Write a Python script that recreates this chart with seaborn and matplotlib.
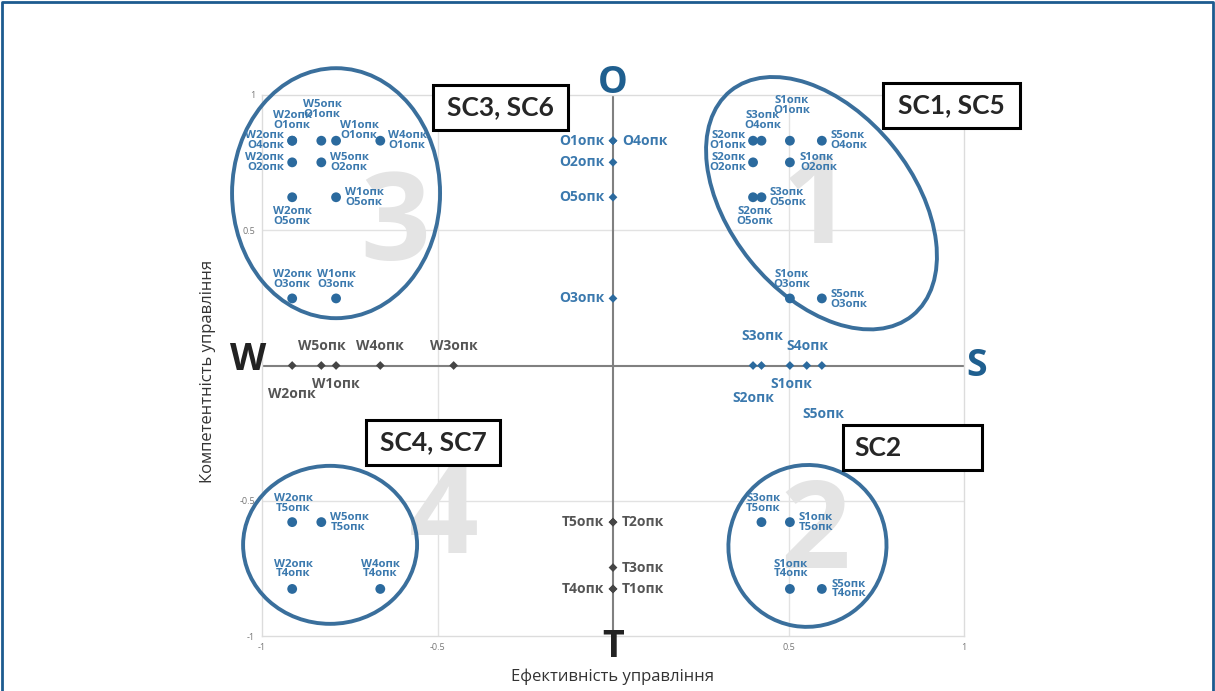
import numpy as np
import pandas as pd
import matplotlib
matplotlib.use("Agg")
import matplotlib.pyplot as plt
import seaborn as sns
from matplotlib.patches import Ellipse, Rectangle
from matplotlib.transforms import ScaledTranslation
from matplotlib.lines import Line2D

# factor scores on the axes
w_names = ["W1", "W2", "W3", "W4", "W5"]
w_vals = [-0.789, -0.914, -0.454, -0.663, -0.831]
s_names = ["S1", "S2", "S3", "S4", "S5"]
s_vals = [0.504, 0.399, 0.423, 0.552, 0.595]
o_names = ["O1", "O2", "O3", "O4", "O5"]
o_vals = [0.831, 0.751, 0.248, 0.831, 0.622]
t_names = ["T1", "T2", "T3", "T4", "T5"]
t_vals = [-0.826, -0.579, -0.747, -0.826, -0.579]

# combinations plotted in the quadrants
sc36_pairs = [("W2", "O1"), ("W2", "O4"), ("W5", "O1"), ("W1", "O1"), ("W4", "O1"),
              ("W2", "O2"), ("W5", "O2"), ("W2", "O5"), ("W1", "O5"), ("W2", "O3"), ("W1", "O3")]
sc15_pairs = [("S1", "O1"), ("S3", "O4"), ("S2", "O1"), ("S5", "O4"), ("S2", "O2"),
              ("S1", "O2"), ("S3", "O5"), ("S2", "O5"), ("S1", "O3"), ("S5", "O3")]
sc2_pairs = [("S3", "T5"), ("S1", "T5"), ("S1", "T4"), ("S5", "T4")]
sc47_pairs = [("W2", "T5"), ("W5", "T5"), ("W2", "T4"), ("W4", "T4")]

box_labels = ["SC3, SC6", "SC1, SC5", "SC4, SC7", "SC2"]
quadrant_numbers = ["3", "1", "4", "2"]
pole_letters = ["O", "S", "W", "T"]
x_title = "Ефективність управління"
y_title = "Компетентність управління"

BLUE = "#2b6a9e"
BLUE_TXT = "#3b79ae"
GRAY = "#454545"
GRAY_TXT = "#555555"

score = dict(zip(w_names + s_names + o_names + t_names, w_vals + s_vals + o_vals + t_vals))

pts = pd.DataFrame([(a, b, score[a], score[b]) for a, b in sc36_pairs + sc15_pairs + sc2_pairs + sc47_pairs],
                   columns=["a", "b", "x", "y"])
axis_rows = [(n, score[n], 0.0, "blue") for n in s_names] + [(n, score[n], 0.0, "gray") for n in w_names] + \
            [(n, 0.0, score[n], "blue") for n in o_names] + [(n, 0.0, score[n], "gray") for n in t_names]
axis_pts = pd.DataFrame(axis_rows, columns=["name", "x", "y", "grp"])

# label placement (pixel offsets, image orientation: dy > 0 is down)
pair_pos = {
    ("W2", "O1"): (0, -20, "center"), ("W2", "O4"): (-8, 0, "right"), ("W5", "O1"): (1, -31, "center"),
    ("W1", "O1"): (4, -10, "left"), ("W4", "O1"): (8, 0, "left"), ("W2", "O2"): (-8, 0, "right"),
    ("W5", "O2"): (9, 0, "left"), ("W2", "O5"): (0, 19, "center"), ("W1", "O5"): (9, 0, "left"),
    ("W2", "O3"): (0, -19, "center"), ("W1", "O3"): (0, -19, "center"),
    ("S1", "O1"): (2, -35, "center"), ("S3", "O4"): (1, -20, "center"), ("S2", "O1"): (-7, 0, "right"),
    ("S5", "O4"): (9, 0, "left"), ("S2", "O2"): (-7, 0, "right"), ("S1", "O2"): (10, 0, "left"),
    ("S3", "O5"): (8, 0, "left"), ("S2", "O5"): (2, 19, "center"), ("S1", "O3"): (2, -19, "center"),
    ("S5", "O3"): (9, 1, "left"),
    ("S3", "T5"): (2, -19, "center"), ("S1", "T5"): (9, 0, "left"), ("S1", "T4"): (1, -20, "center"),
    ("S5", "T4"): (10, 0, "left"),
    ("W2", "T5"): (1, -19, "center"), ("W5", "T5"): (9, 0, "left"), ("W2", "T4"): (1, -20, "center"),
    ("W4", "T4"): (0, -20, "center"),
}
axis_pos = {
    "O1": (-9, 0, "right"), "O4": (9, 0, "left"), "O2": (-9, 0, "right"), "O5": (-9, 0, "right"),
    "O3": (-9, 0, "right"),
    "T5": (-9, 0, "right"), "T2": (9, 0, "left"), "T3": (9, 0, "left"), "T4": (-9, 0, "right"),
    "T1": (9, 0, "left"),
    "W5": (0, -19, "center"), "W4": (0, -19, "center"), "W3": (0, -19, "center"),
    "W1": (0, 18, "center"), "W2": (0, 29, "center"),
    "S3": (1, -29, "center"), "S4": (1, -19, "center"), "S1": (1, 18, "center"),
    "S2": (0, 33, "center"), "S5": (1, 48, "center"),
}

sns.set_style("white")
plt.rcParams["font.family"] = ["Open Sans", "DejaVu Sans"]

fig = plt.figure(figsize=(12.15, 6.91), dpi=100)
ax = fig.add_axes([262 / 1215, 1 - 636 / 691, 702 / 1215, 541 / 691])
ax.set_xlim(-1, 1)
ax.set_ylim(-1, 1)
for sp in ax.spines.values():
    sp.set_color("#dcdcdc")
    sp.set_linewidth(1)
for v in (-0.5, 0.5):
    ax.axvline(v, color="#e2e2e2", lw=1, zorder=0)
    ax.axhline(v, color="#e2e2e2", lw=1, zorder=0)
ax.axhline(0, color="#808080", lw=1.5, zorder=1)
ax.axvline(0, color="#808080", lw=1.5, zorder=1)

ax.set_xticks([-1, -0.5, 0.5, 1])
ax.set_xticklabels(["-1", "-0.5", "0.5", "1"])
ax.set_yticks([-1, -0.5, 0.5, 1])
ax.set_yticklabels(["-1", "-0.5", "0.5", "1"])
ax.tick_params(length=0, labelsize=6.5, labelcolor="#777777", pad=5)

# big quadrant numbers
num_xy = [(-0.62, 0.507), (0.58, 0.57), (-0.483, -0.575), (0.577, -0.63)]
for n, (x, y) in zip(quadrant_numbers, num_xy):
    ax.text(x, y, n, fontsize=88, fontweight="bold", color="#e4e4e4", ha="center", va="center", zorder=1)

# points
sns.scatterplot(data=pts, x="x", y="y", color=BLUE, s=50, edgecolor="none", ax=ax, zorder=5)
sns.scatterplot(data=axis_pts, x="x", y="y", hue="grp", palette={"blue": BLUE, "gray": GRAY},
                marker="D", s=20, edgecolor="none", legend=False, ax=ax, zorder=5)
ax.set_xlabel("")
ax.set_ylabel("")

for _, r in pts.iterrows():
    dx, dy, ha = pair_pos[(r["a"], r["b"])]
    ax.annotate(f"{r['a']}опк\n{r['b']}опк", (r["x"], r["y"]), xytext=(dx, -dy),
                textcoords="offset pixels", ha=ha, va="center", fontsize=8.2, fontweight="bold",
                color=BLUE_TXT, linespacing=0.85, zorder=6)
for _, r in axis_pts.iterrows():
    dx, dy, ha = axis_pos[r["name"]]
    col = BLUE_TXT if r["grp"] == "blue" else GRAY_TXT
    ax.annotate(f"{r['name']}опк", (r["x"], r["y"]), xytext=(dx, -dy), textcoords="offset pixels",
                ha=ha, va="center", fontsize=10, fontweight="bold", color=col, zorder=6)

# cluster ellipses: centre in data units, size in pixels
ell = [((-0.789, 0.637), 208, 250, 0), ((0.594, 0.6), 289, 183, -51),
       ((-0.806, -0.663), 174, 158, 0), ((0.554, -0.667), 158, 162, -10)]
for (cx, cy), w, h, ang in ell:
    e = Ellipse((0, 0), w, h, angle=ang, fill=False, edgecolor="#3a6f9c", lw=2.8,
                transform=ScaledTranslation(cx, cy, ax.transData), clip_on=False, zorder=4)
    ax.add_patch(e)

# pole letters
pole_xy = [(0, 1.044), (1.037, 0), (-1.04, 0.02), (0, -1.04)]
pole_col = ["#1f5f8f", "#1f5f8f", "#222222", "#222222"]
for t, (x, y), c in zip(pole_letters, pole_xy, pole_col):
    ax.text(x, y, t, fontsize=27, fontweight="bold", color=c, ha="center", va="center",
            clip_on=False, zorder=6)

# scenario boxes (pixel rects)
box_rects = [(433, 85, 135, 45), (883, 83, 137, 45), (366, 420, 134, 45), (843, 425, 139, 45)]
for lab, (bx, by, bw, bh) in zip(box_labels, box_rects):
    fig.add_artist(Rectangle((bx / 1215, 1 - (by + bh) / 691), bw / 1215, bh / 691,
                             transform=fig.transFigure, fill=True, facecolor="white",
                             edgecolor="black", lw=2.2, zorder=7))
    if lab == "SC2":
        fig.text((bx + 11) / 1215, 1 - (by + bh / 2) / 691, lab, fontsize=19, fontweight="bold",
                 ha="left", va="center", zorder=8, family=["Lato", "DejaVu Sans"])
    else:
        fig.text((bx + bw / 2) / 1215, 1 - (by + bh / 2) / 691, lab, fontsize=19, fontweight="bold",
                 ha="center", va="center", zorder=8, family=["Lato", "DejaVu Sans"])

fig.text(613 / 1215, 1 - 677 / 691, x_title, fontsize=12, color="#333333", ha="center", va="center")
fig.text(208 / 1215, 1 - 371 / 691, y_title, fontsize=12, color="#333333", ha="center", va="center",
         rotation=90)

# frame around the figure
fig.add_artist(Line2D([0.002, 0.002, 0.998, 0.998], [0, 0.997, 0.997, 0], transform=fig.transFigure,
                      color="#1d5b8f", lw=2))

fig.savefig("out.png", dpi=100)
